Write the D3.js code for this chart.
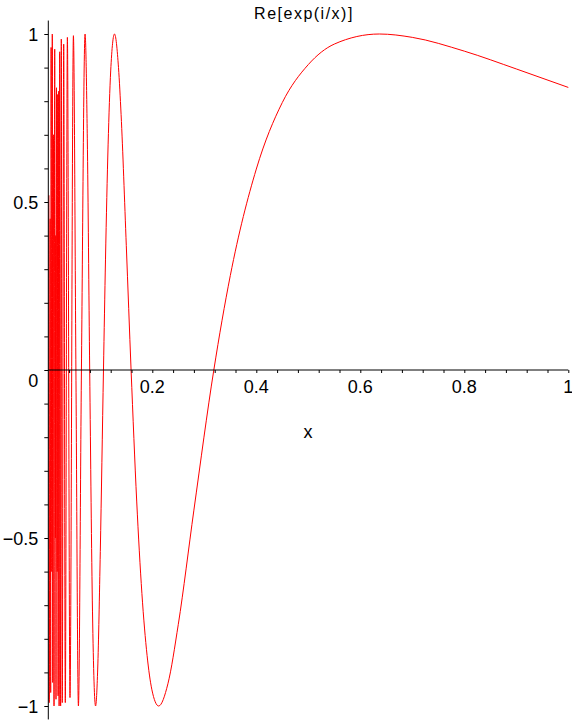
<!DOCTYPE html>
<html>
<head>
<meta charset="utf-8">
<script src="https://cdn.jsdelivr.net/npm/d3@7"></script>
<style>
  body { margin: 0; background: #fff; }
  svg text { font-family: "Liberation Sans", Arial, sans-serif; fill: #000; }
</style>
</head>
<body>
<svg id="chart" width="572" height="721"></svg>
<script>
// samples of the curve
const xValues = [
    0.0012, 0.0019, 0.0036, 0.0046, 0.0054, 0.0067, 0.0077, 0.0085, 0.0100, 0.0110,
    0.0123, 0.0137, 0.0142, 0.0148, 0.0158, 0.0171, 0.0181, 0.0188, 0.0200, 0.0208,
    0.0219, 0.0237, 0.0250, 0.0269, 0.0296, 0.0327, 0.0367, 0.0417, 0.0483, 0.0531,
    0.0579, 0.0637, 0.0707, 0.0750, 0.0796, 0.0850, 0.0909, 0.0950, 0.1000, 0.1061,
    0.1100, 0.1150, 0.1200, 0.1273, 0.1350, 0.1400, 0.1500, 0.1592, 0.1700, 0.1800,
    0.1900, 0.1990, 0.2122, 0.2300, 0.2500, 0.2800, 0.3183, 0.3500, 0.4000, 0.4500,
    0.5000, 0.5500, 0.6366, 0.7000, 0.8000, 0.9000, 1.0000
];
const yValues = [
    0.52, -0.99, 0.45, -0.96, 0.96, -0.60, 1.00, -0.93, 0.70, -1.00,
    0.955, -0.50, 0.40, -0.98, 0.84, -0.60, 0.82, -0.97, 0.83, -1.00,
    0.947, -1.00, 0.985, -0.99, 0.97, -0.99, 0.99, -0.975, 0.995, 0.00,
    -1.00, 0.00, 1.00, 0.69, 0.00, -0.72, -1.00, -0.89, -0.54, 0.00,
    0.33, 0.67, 0.89, 1.00, 0.90, 0.76, 0.37, 0.00, -0.39, -0.665,
    -0.85, -0.95, -1.00, -0.934, -0.757, -0.417, 0.00, 0.281, 0.598, 0.796,
    0.909, 0.970, 1.00, 0.990, 0.949, 0.896, 0.841
];

const xTicks = [0.2, 0.4, 0.6, 0.8, 1];
const xTickLabels = ["0.2", "0.4", "0.6", "0.8", "1"];
const yTicks = [1, 0.5, 0, -0.5, -1];
const yTickLabels = ["1", "0.5", "0", "\u22120.5", "\u22121"];

const titleText = "Re[exp(i/x)]";
const xAxisLabel = "x";

const svg = d3.select("#chart");

const x = d3.scaleLinear().domain([0, 1]).range([48.3, 568.3]);
const y = d3.scaleLinear().domain([-1, 1]).range([706, 34]);

const points = xValues.map((v, i) => [v, yValues[i]]);

// curve
const line = d3.line()
    .x(d => x(d[0]))
    .y(d => y(d[1]))
    .curve(d3.curveMonotoneX);

svg.append("path")
    .datum(points)
    .attr("fill", "none")
    .attr("stroke", "#ff0000")
    .attr("stroke-width", 1)
    .attr("d", line);

// x axis through y = 0
const xAxis = d3.axisBottom(x)
    .tickValues(d3.range(0.04, 1.001, 0.04))
    .tickSize(3)
    .tickFormat("");

const gx = svg.append("g")
    .attr("transform", `translate(0,${y(0)})`)
    .call(xAxis);
gx.select(".domain").attr("d", `M${x(0)},0H${x(1)}`);

svg.append("g").selectAll("text")
    .data(xTicks)
    .enter().append("text")
    .attr("x", d => x(d))
    .attr("y", y(0) + 23)
    .attr("text-anchor", "middle")
    .attr("font-size", 18)
    .text((d, i) => xTickLabels[i]);

// y axis through x = 0
const yAxis = d3.axisLeft(y)
    .tickValues(d3.range(-1, 1.001, 0.1))
    .tickSize(4)
    .tickFormat("");

const gy = svg.append("g")
    .attr("transform", `translate(${x(0)},0)`)
    .call(yAxis);
gy.select(".domain").attr("d", `M0,${y(1.04)}V${y(-1.04)}`);

svg.selectAll(".domain, .tick line")
    .attr("stroke", "#000")
    .attr("stroke-width", 1);

svg.append("g").selectAll("text")
    .data(yTicks)
    .enter().append("text")
    .attr("x", x(0) - 10)
    .attr("y", d => d === 0 ? y(d) + 17 : y(d) + 6.5)
    .attr("text-anchor", "end")
    .attr("font-size", 18)
    .text((d, i) => yTickLabels[i]);

// labels
svg.append("text")
    .attr("x", 308)
    .attr("y", 438)
    .attr("text-anchor", "middle")
    .attr("font-size", 18)
    .text(xAxisLabel);

svg.append("text")
    .attr("x", 304)
    .attr("y", 19)
    .attr("text-anchor", "middle")
    .attr("font-size", 16)
    .attr("letter-spacing", 1.5)
    .text(titleText);
</script>
</body>
</html>
